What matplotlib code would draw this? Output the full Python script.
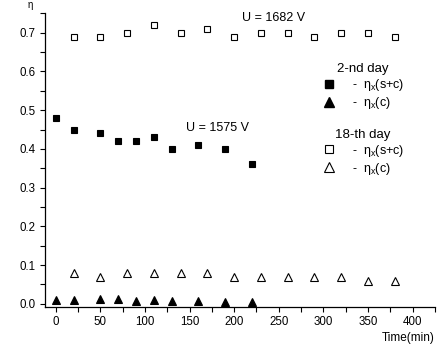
import matplotlib
matplotlib.use("Agg")
import matplotlib.pyplot as plt
from matplotlib.ticker import MultipleLocator
from matplotlib.lines import Line2D

plt.rcParams['font.family'] = ['Liberation Sans', 'DejaVu Sans']

# 2-nd day
t2 = [0, 20, 50, 70, 90, 110, 130, 160, 190, 220]
eta_sc_2 = [0.48, 0.45, 0.44, 0.42, 0.42, 0.43, 0.40, 0.41, 0.40, 0.36]
eta_c_2 = [0.011, 0.009, 0.012, 0.012, 0.008, 0.010, 0.006, 0.007, 0.004, 0.005]

# 18-th day
t18 = [20, 50, 80, 110, 140, 170, 200, 230, 260, 290, 320, 350, 380]
eta_sc_18 = [0.69, 0.69, 0.70, 0.72, 0.70, 0.71, 0.69, 0.70, 0.70, 0.69, 0.70, 0.70, 0.69]
eta_c_18 = [0.08, 0.07, 0.08, 0.08, 0.08, 0.08, 0.07, 0.07, 0.07, 0.07, 0.07, 0.06, 0.06]

xticks = [0, 50, 100, 150, 200, 250, 300, 350, 400]
yticks = [0.0, 0.1, 0.2, 0.3, 0.4, 0.5, 0.6, 0.7]

fig = plt.figure(figsize=(4.43, 3.44), dpi=100)
ax = fig.add_axes([0.1016, 0.109, 0.880, 0.852])

ax.plot(t2, eta_sc_2, 's', color='black', ms=4.4, mew=0.8)
ax.plot(t2, eta_c_2, '^', color='black', ms=6.3, mew=0.8)
ax.plot(t18, eta_sc_18, 's', mfc='white', mec='black', ms=4.2, mew=0.8)
ax.plot(t18, eta_c_18, '^', mfc='white', mec='black', ms=6.0, mew=0.8)

ax.set_xlim(-12, 425)
ax.set_ylim(-0.007, 0.75)
ax.set_xticks(xticks)
ax.set_yticks(yticks)
ax.set_yticklabels([f"{v:.1f}" for v in yticks])
ax.xaxis.set_minor_locator(MultipleLocator(25))
ax.yaxis.set_minor_locator(MultipleLocator(0.05))
ax.tick_params(which='both', direction='out', length=3.5, width=0.8, labelsize=8.3, pad=3)
for s in ['top', 'right']:
    ax.spines[s].set_visible(False)
for s in ['left', 'bottom']:
    ax.spines[s].set_linewidth(0.9)

ax.text(-0.037, 1.01, 'η', transform=ax.transAxes, ha='center', va='bottom', fontsize=7)
ax.set_xlabel('Time(min)', fontsize=8.5, loc='right', labelpad=3)

ax.text(209, 0.738, 'U = 1682 V', fontsize=9, va='center', ha='left')
ax.text(146, 0.455, 'U = 1575 V', fontsize=9, va='center', ha='left')

h2 = [Line2D([], [], ls='none', marker='s', color='black', ms=5.6),
      Line2D([], [], ls='none', marker='^', color='black', ms=7.8)]
h18 = [Line2D([], [], ls='none', marker='s', mfc='white', mec='black', ms=5.6, mew=0.8),
       Line2D([], [], ls='none', marker='^', mfc='white', mec='black', ms=7.8, mew=0.8)]
labels = ['-  η$\\mathregular{_x}$(s+c)', '-  η$\\mathregular{_x}$(c)']

common = dict(frameon=False, fontsize=9, title_fontsize=9.5, loc='upper left',
              handletextpad=1.3, labelspacing=0.15, borderpad=0, borderaxespad=0,
              handlelength=1.2)
leg1 = ax.legend(h2, labels, title='2-nd day', bbox_to_anchor=(0.708, 0.83), **common)
ax.add_artist(leg1)
leg2 = ax.legend(h18, labels, title='18-th day', bbox_to_anchor=(0.708, 0.606), **common)

fig.savefig('out.png', dpi=100)
